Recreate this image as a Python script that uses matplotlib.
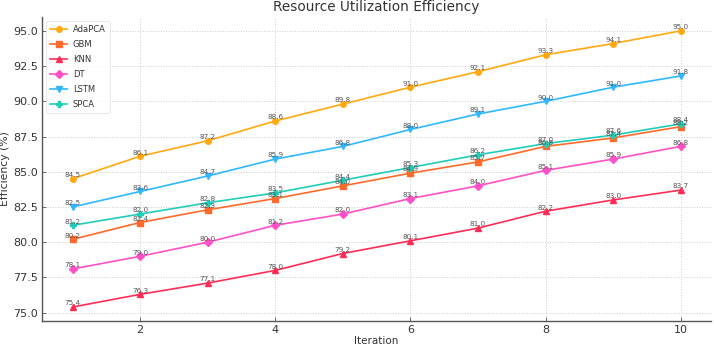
import matplotlib
matplotlib.use("Agg")
import matplotlib.pyplot as plt

iterations = [1, 2, 3, 4, 5, 6, 7, 8, 9, 10]
adapca = [84.5, 86.1, 87.2, 88.6, 89.8, 91.0, 92.1, 93.3, 94.1, 95.0]
gbm = [80.2, 81.4, 82.3, 83.1, 84.0, 84.9, 85.7, 86.8, 87.4, 88.2]
knn = [75.4, 76.3, 77.1, 78.0, 79.2, 80.1, 81.0, 82.2, 83.0, 83.7]
dt = [78.1, 79.0, 80.0, 81.2, 82.0, 83.1, 84.0, 85.1, 85.9, 86.8]
lstm = [82.5, 83.6, 84.7, 85.9, 86.8, 88.0, 89.1, 90.0, 91.0, 91.8]
spca = [81.2, 82.0, 82.8, 83.5, 84.4, 85.3, 86.2, 87.0, 87.6, 88.4]

series = [
    ("AdaPCA", adapca, "#FFA90F", "o"),
    ("GBM", gbm, "#FF6A2A", "s"),
    ("KNN", knn, "#FF2D55", "^"),
    ("DT", dt, "#FF50C8", "D"),
    ("LSTM", lstm, "#2EB8FF", "v"),
    ("SPCA", spca, "#1FCDB8", "P"),
]

fig = plt.figure(figsize=(7.14, 3.48), dpi=100)
ax = fig.add_axes([0.059, 0.078, 0.937, 0.873])

for name, vals, color, marker in series:
    ax.plot(iterations, vals, color=color, marker=marker, markersize=4,
            linewidth=1.2, label=name)
    for x, y in zip(iterations, vals):
        ax.annotate(f"{y:.1f}", (x, y), xytext=(0, 0.5), textcoords="offset points",
                    ha="center", va="bottom", fontsize=5.2, color="#555555")

ax.set_title("Resource Utilization Efficiency", fontsize=9.8, color="#333333", pad=4)
ax.set_xlabel("Iteration", fontsize=7.5, color="#333333", labelpad=1)
ax.set_ylabel("Efficiency (%)", fontsize=7.8, color="#333333", labelpad=2)
ax.set_xticks([2, 4, 6, 8, 10])
yt = [75.0, 77.5, 80.0, 82.5, 85.0, 87.5, 90.0, 92.5, 95.0]
ax.set_yticks(yt)
ax.set_yticklabels([f"{v:.1f}" for v in yt])
ax.tick_params(direction="in", length=3, width=0.6, colors="#555555",
               labelsize=8, labelcolor="#333333", pad=3)
ax.grid(True, linestyle=":", color="#cccccc", linewidth=0.7)
for s in ["top", "right"]:
    ax.spines[s].set_visible(False)
for s in ["left", "bottom"]:
    ax.spines[s].set_color("#555555")
    ax.spines[s].set_linewidth(1.0)

leg = ax.legend(loc="upper left", fontsize=6, frameon=True, borderpad=0.5,
                labelspacing=0.7, handlelength=2.0, handletextpad=0.7)
leg.get_frame().set_edgecolor("#dddddd")
leg.get_frame().set_linewidth(0.6)
for t in leg.get_texts():
    t.set_color("#333333")

fig.savefig("out.png", dpi=100)
